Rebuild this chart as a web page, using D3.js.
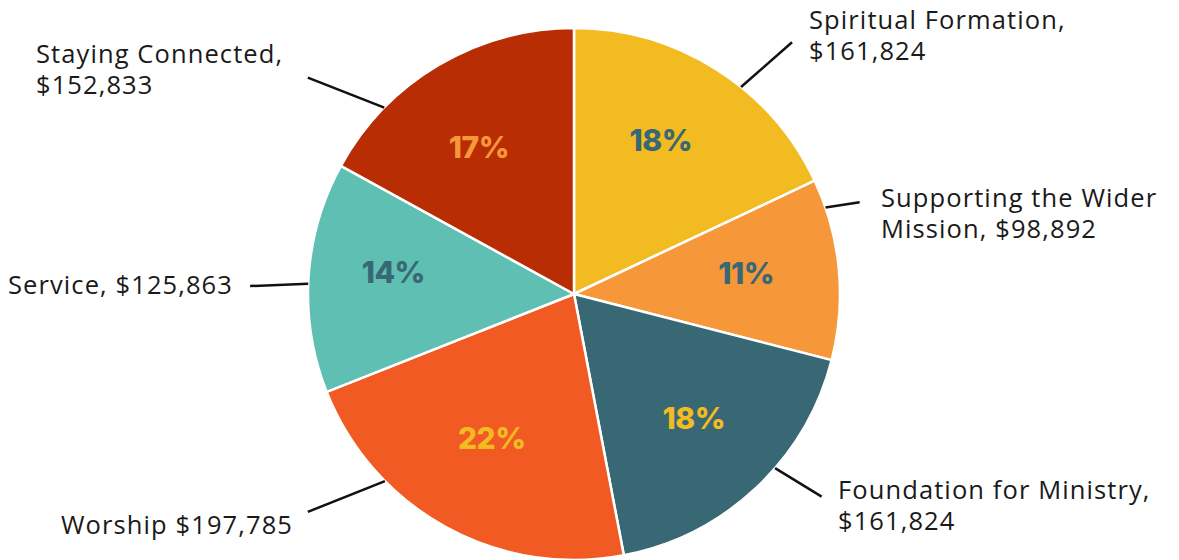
<!DOCTYPE html>
<meta charset="utf-8">
<style>
    body { margin: 0; background: #fff; }
    .name { font-family: "Open Sans", "Noto Sans", sans-serif; font-size: 25.5px; fill: #1a1a1a; letter-spacing: 1.1px; }
    .pct { font-family: "Inter", "DejaVu Sans", sans-serif; font-size: 30px; font-weight: 800; letter-spacing: -0.5px; }
</style>
<svg width="1179" height="560"></svg>
<script src="https://d3js.org/d3.v7.min.js"></script>
<script>

    // data
    var categories = ["Spiritual Formation", "Supporting the Wider Mission", "Foundation for Ministry",
                      "Worship", "Service", "Staying Connected"];
    var amounts = [161824, 98892, 161824, 197785, 125863, 152833];
    var nameLines = [
        ["Spiritual Formation,", "$161,824"],
        ["Supporting the Wider", "Mission, $98,892"],
        ["Foundation for Ministry,", "$161,824"],
        ["Worship $197,785"],
        ["Service, $125,863"],
        ["Staying Connected,", "$152,833"]
    ];
    var sliceColors = ["#f2bb21", "#f6973a", "#376874", "#f15a22", "#5fbfb2", "#b92d05"];
    var pctColors = ["#376874", "#376874", "#f2bb21", "#f2bb21", "#376874", "#f6973a"];

    // small hand nudges of the percent labels off the centroid
    var pctNudge = [[-7, -6], [-2, -4], [0, -3], [2, -9], [-6, -11], [-6, 4]];

    // leader layout: angle on the rim (deg), angle + radius of outer end, label anchor
    var leaders = [
        {a0: 38.9, a1: 40.9, r1: 333, lx: 809, ly: 20, anchor: "start"},
        {a0: 71.0, a1: 72.2, r1: 300, lx: 881, ly: 198, anchor: "start"},
        {a0: 130.9, a1: 129.3, r1: 320, lx: 838, ly: 490, anchor: "start"},
        {a0: 225.3, a1: 230.7, r1: 344, lx: 293, ly: 525, anchor: "end"},
        {a0: 272.2, a1: 271.4, r1: 324, lx: 233, ly: 285, anchor: "end"},
        {a0: 314.5, a1: 309.1, r1: 343, lx: 36, ly: 54, anchor: "start"}
    ];

    var svg = d3.select("svg");
    var cx = 574, cy = 294, radius = 266;

    var total = d3.sum(amounts);
    var pie = d3.pie().sort(null).value(function(d) { return d; });
    var arcs = pie(amounts);

    var arc = d3.arc().innerRadius(0).outerRadius(radius);
    var labelArc = d3.arc().innerRadius(175).outerRadius(175);

    var g = svg.append("g").attr("transform", "translate(" + cx + "," + cy + ")");

    g.selectAll("path.slice")
        .data(arcs)
        .enter().append("path")
        .attr("class", "slice")
        .attr("d", arc)
        .attr("fill", function(d, i) { return sliceColors[i]; })
        .attr("stroke", "#fff")
        .attr("stroke-width", 2.5)
        .attr("stroke-linejoin", "round");

    g.selectAll("text.pct")
        .data(arcs)
        .enter().append("text")
        .attr("class", "pct")
        .attr("transform", function(d, i) {
            var c = labelArc.centroid(d);
            return "translate(" + (c[0] + pctNudge[i][0]) + "," + (c[1] + pctNudge[i][1]) + ")";
        })
        .attr("text-anchor", "middle")
        .attr("dy", "0.36em")
        .attr("fill", function(d, i) { return pctColors[i]; })
        .text(function(d) { return Math.round(d.value / total * 100) + "%"; });

    var rad = Math.PI / 180;

    // leader lines
    g.selectAll("line.leader")
        .data(leaders)
        .enter().append("line")
        .attr("class", "leader")
        .attr("x1", function(d) { return d3.pointRadial(d.a0 * rad, radius)[0]; })
        .attr("y1", function(d) { return d3.pointRadial(d.a0 * rad, radius)[1]; })
        .attr("x2", function(d) { return d3.pointRadial(d.a1 * rad, d.r1)[0]; })
        .attr("y2", function(d) { return d3.pointRadial(d.a1 * rad, d.r1)[1]; })
        .attr("stroke", "#111")
        .attr("stroke-width", 2.5);

    // category labels
    var names = svg.selectAll("text.name")
        .data(leaders)
        .enter().append("text")
        .attr("class", "name")
        .attr("x", function(d) { return d.lx; })
        .attr("y", function(d) { return d.ly; })
        .attr("text-anchor", function(d) { return d.anchor; });

    names.each(function(d, i) {
        var t = d3.select(this);
        nameLines[i].forEach(function(line, j) {
            t.append("tspan")
                .attr("x", d.lx)
                .attr("dy", j === 0 ? "0.35em" : "31px")
                .text(line);
        });
    });

</script>
